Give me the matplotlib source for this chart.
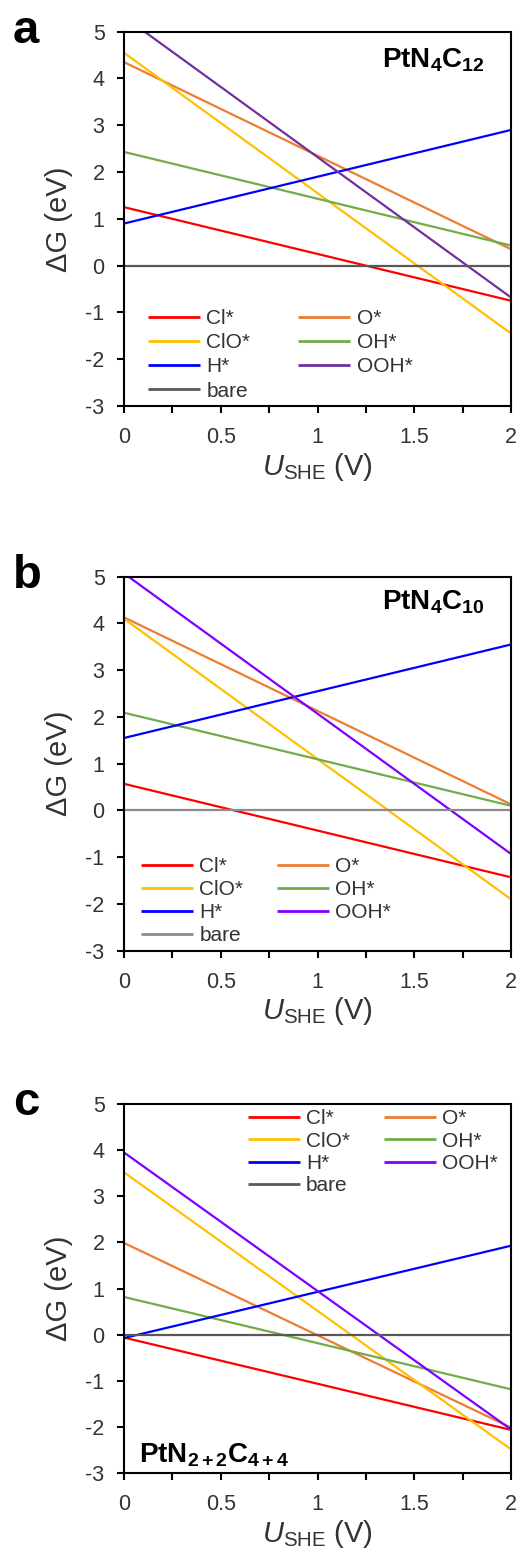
import numpy as np
import matplotlib
matplotlib.use("Agg")
import matplotlib.pyplot as plt
from matplotlib.ticker import MultipleLocator, FuncFormatter

plt.rcParams["font.family"] = ["Liberation Sans", "DejaVu Sans"]
plt.rcParams["axes.unicode_minus"] = False
plt.rcParams["mathtext.fontset"] = "custom"
plt.rcParams["mathtext.rm"] = "Liberation Sans"
plt.rcParams["mathtext.it"] = "Liberation Sans:italic"
plt.rcParams["mathtext.bf"] = "Liberation Sans:bold"

# species, in the order the legend fills its two columns
SPECIES = ["Cl*", "ClO*", "H*", "bare", "O*", "OH*", "OOH*"]
U_SHE = [0.0, 2.0]

# dG (eV) at U = 0 V and U = 2 V
DG_A_U0 = [1.25, 4.55, 0.90, 0.0, 4.35, 2.43, 5.32]
DG_A_U2 = [-0.75, -1.45, 2.90, 0.0, 0.35, 0.43, -0.68]
DG_B_U0 = [0.57, 4.10, 1.55, 0.0, 4.13, 2.09, 5.07]
DG_B_U2 = [-1.43, -1.90, 3.55, 0.0, 0.13, 0.10, -0.93]
DG_C_U0 = [-0.06, 3.52, -0.07, 0.0, 1.99, 0.82, 3.95]
DG_C_U2 = [-2.06, -2.48, 1.93, 0.0, -2.01, -1.18, -2.05]

PANEL_LETTERS = ["a", "b", "c"]
PANEL_NAMES = [r"$\mathbf{PtN_4C_{12}}$", r"$\mathbf{PtN_4C_{10}}$",
               r"$\mathbf{PtN_{2+2}C_{4+4}}$"]

BASE_COLORS = {"Cl*": "#FF0000", "ClO*": "#FFC000", "H*": "#0000FF",
               "O*": "#ED7D31", "OH*": "#70AD47"}
OOH_COLORS = ["#7030A0", "#8000FF", "#8000FF"]
BARE_COLORS = ["#595959", "#8C8C8C", "#595959"]
# Excel drawing order (bare on top)
DRAW_ORDER = ["Cl*", "O*", "ClO*", "OH*", "H*", "OOH*", "bare"]

fig = plt.figure(figsize=(5.2, 15.59), dpi=100)
W, H = 520.0, 1559.0
ax_left, ax_right = 124, 511
tops = [31.7, 576.7, 1104.0]
bottoms = [406.0, 950.7, 1473.3]

panel_data = [(DG_A_U0, DG_A_U2), (DG_B_U0, DG_B_U2), (DG_C_U0, DG_C_U2)]
legend_cfg = [
    dict(bbox_to_anchor=(0.062, 0.259), columnspacing=2.3, labelspacing=0.25),
    dict(bbox_to_anchor=(0.044, 0.250), columnspacing=1.6, labelspacing=0.19),
    dict(bbox_to_anchor=(0.320, 0.986), columnspacing=1.6, labelspacing=0.16),
]
name_pos = [(0.933, 0.905, "right"), (0.933, 0.911, "right"), (0.039, 0.028, "left")]

for i in range(3):
    ax = fig.add_axes([ax_left / W, 1 - bottoms[i] / H,
                       (ax_right - ax_left) / W, (bottoms[i] - tops[i]) / H])
    dg0, dg2 = panel_data[i]
    lines = {}
    for sp in DRAW_ORDER:
        k = SPECIES.index(sp)
        if sp == "OOH*":
            c = OOH_COLORS[i]
        elif sp == "bare":
            c = BARE_COLORS[i]
        else:
            c = BASE_COLORS[sp]
        (ln,) = ax.plot(U_SHE, [dg0[k], dg2[k]], color=c, lw=1.6,
                        solid_capstyle="butt", label=sp)
        lines[sp] = ln

    ax.set_xlim(0, 2)
    ax.set_ylim(-3, 5)
    ax.xaxis.set_major_locator(MultipleLocator(0.5))
    ax.xaxis.set_minor_locator(MultipleLocator(0.25))
    ax.yaxis.set_major_locator(MultipleLocator(1))
    ax.xaxis.set_major_formatter(FuncFormatter(lambda v, p: f"{v:g}"))
    ax.yaxis.set_major_formatter(FuncFormatter(lambda v, p: f"{v:g}"))
    ax.tick_params(axis="both", which="both", direction="out", length=5,
                   width=1.5, labelsize=15.5, labelcolor="#333333")
    ax.tick_params(axis="x", which="both", pad=10)
    ax.tick_params(axis="y", pad=9)
    for s in ax.spines.values():
        s.set_linewidth(1.5)

    ax.set_xlabel(r"$U_{\mathrm{SHE}}$ (V)", fontsize=21, labelpad=2,
                  color="#333333")
    ax.set_ylabel("\u0394G (eV)", fontsize=21, labelpad=9, color="#333333")

    leg = ax.legend([lines[s] for s in SPECIES], SPECIES, ncol=2, frameon=False,
                    fontsize=15, handlelength=2.5, handletextpad=0.3,
                    borderpad=0, borderaxespad=0, loc="upper left",
                    **legend_cfg[i])
    for t in leg.get_texts():
        t.set_color("#333333")
    for h in leg.legend_handles:
        h.set_linewidth(2.0)

    nx, ny, ha = name_pos[i]
    ax.text(nx, ny, PANEL_NAMES[i], transform=ax.transAxes, ha=ha,
            va="baseline", fontsize=20, color="black")

    fig.text(13 / W, 1 - (tops[i] + 11) / H, PANEL_LETTERS[i],
             fontsize=34, fontweight="bold", ha="left", va="baseline")

fig.savefig("out.png", dpi=100)
